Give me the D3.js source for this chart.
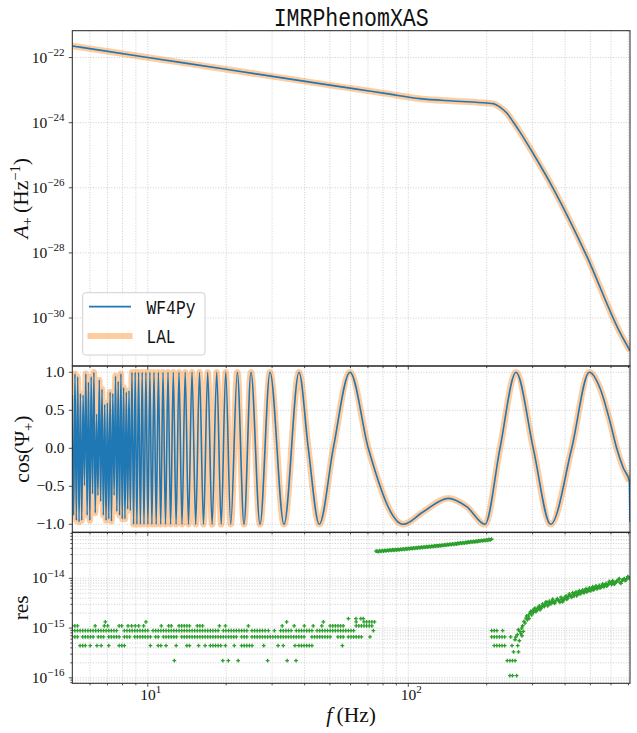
<!DOCTYPE html>
<html><head><meta charset="utf-8">
<script src="https://cdn.jsdelivr.net/npm/d3@7/dist/d3.min.js"></script>
<style>body{margin:0;background:#fff}svg{display:block}</style>
</head><body>
<script>
// ---------------- DATA ----------------
const titleText = "IMRPhenomXAS";
const seriesNames = ["WF4Py", "LAL"];

// Amplitude A+ (Hz^-1) vs frequency (Hz)
const ampFreq = [5.131, 10.0, 19.95, 45.8, 61.5, 82.6, 110.9, 148.9, 200.0, 211.8, 224.9, 238.8, 252.9, 268.5, 302.0, 360.6, 484.2, 650.1, 709.7];
const ampVal  = [2.275e-22, 1.01e-22, 4.36e-23, 1.585e-23, 1.11e-23, 7.80e-24, 5.47e-24, 4.62e-24, 4.01e-24, 3.85e-24, 3.02e-24, 1.97e-24, 1.05e-24, 5.14e-25, 1.11e-25, 9.33e-27, 7.98e-29, 3.53e-31, 9.86e-32];

// cos(Psi+) samples vs frequency (Hz)
const cosFreq = [5.131, 5.193, 5.255, 5.318, 5.382, 5.447, 5.512, 5.578, 5.645, 5.713, 5.782, 5.851, 5.921, 5.992, 6.064, 6.137, 6.211, 6.285, 6.361, 6.437, 6.515, 6.593, 6.672, 6.752, 6.833, 6.915, 6.998, 7.082, 7.167, 7.253, 7.340, 7.428, 7.518, 7.608, 7.699, 7.792, 7.885, 7.980, 8.076, 8.173, 8.271, 8.370, 8.471, 8.572,
  8.696, 8.820, 8.946, 9.081, 9.219, 9.366, 9.517, 9.669, 9.833, 10.009, 10.187, 10.369, 10.564, 10.771, 10.983, 11.209, 11.439, 11.695, 11.956, 12.234, 12.529, 12.843, 13.176, 13.530, 13.918, 14.330, 14.780, 15.272, 15.794, 16.362, 16.981, 17.655, 18.388, 19.135, 19.911, 20.812, 22.063, 23.408, 24.900, 26.967, 29.453, 33.336, 38.061,
  41.315, 45.53, 51.53, 59.72, 70.22, 95.68, 114.2, 142.4, 167.6, 197.0, 224.9, 259.1, 301.8, 352.1, 423.9, 495.3, 544.5, 594.8, 631.0, 668.9, 705.3];
const cosVal = [0.70, -0.88, 0.98, -0.95, 0.94, -0.97, 0.72, -0.95, 0.70, -0.49, 0.98, -0.88, 0.87, -0.95, 0.94, -0.60, 1.0, -0.85, 0.45, -0.62, 0.90, -0.70, 0.78, -0.88, 0.58, -0.95, 0.60, -0.93, 0.74, -0.96, 0.72, -0.62, 0.95, -0.83, 0.88, -0.88, 0.98, -0.93, 0.80, -0.93, 0.74, -0.80, 0.76, -0.82,
  1, -1, 1, -1, 1, -1, 1, -1, 1, -1, 1, -1, 1, -1, 1, -1, 1, -1, 1, -1, 1, -1, 1, -1, 1, -1, 1, -1, 1, -1, 1, -1, 1, -1, 1, -1, 1, -1, 1, -1, 1, -1, 1,
  0, -1, 0, 1, 0, -1, -0.834, -0.658, -0.768, -1, 0, 1, 0, -1, 0, 1, 0.79, 0.35, 0, -0.26, -0.43];
// WF4Py has one extra last sample at the cut-off
const cosTailFreq = [709.7];
const cosTailVal = [-0.97];

// Residuals: log10(f) positions of points at each quantised level
const resLevelVals = [1.11e-16, 2.22e-16, 3.33e-16, 4.44e-16, 6.66e-16, 8.88e-16, 1.11e-15, 1.33e-15, 1.55e-15];
const resLogF_L05 = [2.39, 2.40, 2.416];
const resLogF_L1 = [1.102, 1.288, 1.309, 1.347, 1.460, 1.535, 1.569, 2.38, 2.39, 2.40, 2.41];
const resLogF_L15 = [2.404, 2.423];
const resLogF_L2 = [0.74, 0.75, 0.76, 0.779, 0.805, 0.821, 0.850, 0.89, 0.90, 0.91, 1.010, 1.04, 1.05, 1.070, 1.109, 1.15, 1.16, 1.195, 1.22, 1.24, 1.25, 1.26, 1.27, 1.28, 1.298, 1.332, 1.36, 1.37, 1.38, 1.39, 1.40, 1.445, 1.50, 1.520, 1.565, 1.58, 1.59, 1.60, 1.61, 1.62, 1.63, 1.747,
  2.33, 2.34, 2.35, 2.36, 2.37, 2.398, 2.420];
const resLogF_L3 = [0.71, 0.72, 0.73, 0.75, 0.76, 0.77, 0.78, 0.79, 0.81, 0.82, 0.83, 0.85, 0.86, 0.87, 0.88, 0.89, 0.91, 0.92, 0.93, 0.95, 0.96, 0.97, 0.98, 0.99, 1.00, 1.01, 1.03, 1.04, 1.06, 1.07, 1.08, 1.09, 1.10, 1.11,
  1.13, 1.14, 1.15, 1.16, 1.17, 1.18, 1.19, 1.20, 1.21, 1.22, 1.23, 1.24, 1.25, 1.26, 1.27, 1.28, 1.29, 1.30, 1.31, 1.32, 1.33, 1.34, 1.36, 1.37, 1.38,
  1.40, 1.41, 1.42, 1.43, 1.44, 1.45, 1.46, 1.47, 1.48, 1.49, 1.50, 1.51, 1.52, 1.53, 1.54, 1.55, 1.56, 1.57, 1.58, 1.59, 1.60, 1.63, 1.64, 1.65, 1.66, 1.67, 1.68, 1.69, 1.70, 1.73, 1.74, 1.75, 1.77, 1.78, 1.79, 1.80, 1.81, 1.82, 1.853,
  2.32, 2.33, 2.34, 2.35, 2.36, 2.37, 2.393];
const resLogF_L4 = [0.71, 0.72, 0.73, 0.74, 0.75, 0.76, 0.77, 0.78, 0.79, 0.80, 0.81, 0.82, 0.83, 0.84, 0.85, 0.86, 0.87, 0.88, 0.91, 0.92, 0.93, 0.94, 0.95, 0.96, 0.97, 0.98, 0.99, 1.00,
  1.02, 1.03, 1.04, 1.05, 1.06, 1.07, 1.08, 1.09, 1.10, 1.11, 1.12, 1.13, 1.14, 1.15, 1.16, 1.17, 1.18, 1.19, 1.20, 1.21, 1.22, 1.23, 1.24, 1.25, 1.26, 1.27, 1.29, 1.30,
  1.31, 1.32, 1.33, 1.34, 1.35, 1.36, 1.37, 1.38, 1.40, 1.41, 1.42, 1.43, 1.44, 1.45, 1.463, 1.486, 1.51, 1.52, 1.53, 1.54, 1.55, 1.57, 1.58, 1.59, 1.60, 1.61, 1.62, 1.63,
  1.65, 1.66, 1.67, 1.68, 1.69, 1.70, 1.71, 1.72, 1.73, 1.74, 1.75, 1.76, 1.77, 1.78, 1.79, 1.866,
  2.32, 2.33, 2.34, 2.362];
const resLogF_L5 = [0.71, 0.72, 0.73, 0.798, 0.833, 0.846, 0.89, 0.90, 0.924, 0.938, 0.952, 0.965, 0.984, 1.052, 1.08, 1.09, 1.12, 1.13, 1.14, 1.15, 1.16, 1.19, 1.20, 1.21, 1.275, 1.298, 1.386, 1.516, 1.562, 1.601, 1.635, 1.668,
  1.70, 1.71, 1.72, 1.73, 1.74, 1.75, 1.80, 1.81, 1.82, 1.83, 1.84, 1.85, 1.86];
const resLogF_L6 = [0.837, 0.993, 1.533, 1.674, 1.80, 1.83, 1.84, 1.85, 1.86, 1.87];
const resLogF_L7 = [1.770, 1.799, 1.818, 1.827];

// Residuals: continuous band (log10 f, log10 res)
const resBandLogF = [1.876, 1.88, 1.885, 1.89, 1.895, 1.90, 1.905, 1.91, 1.915, 1.92, 1.925, 1.93, 1.935, 1.94, 1.945, 1.95, 1.955, 1.96, 1.965, 1.97, 1.975, 1.98, 1.985, 1.99, 1.995, 2.00, 2.005, 2.01, 2.015, 2.02, 2.025, 2.03, 2.035, 2.04, 2.045, 2.05, 2.055, 2.06, 2.065, 2.07, 2.075, 2.08, 2.085, 2.09, 2.095, 2.10, 2.105, 2.11, 2.115, 2.12, 2.125, 2.13, 2.135, 2.14, 2.145, 2.15, 2.155, 2.16, 2.165, 2.17, 2.175, 2.18, 2.185, 2.19, 2.195, 2.20, 2.205, 2.21, 2.215, 2.22, 2.225, 2.23, 2.235, 2.24, 2.245, 2.25, 2.255, 2.26, 2.265, 2.27, 2.275, 2.28, 2.285, 2.29, 2.295, 2.30, 2.305, 2.31, 2.315, 2.32];
const resBandLogR = [-13.454, -13.452, -13.462, -13.448, -13.458, -13.444, -13.453, -13.439, -13.449, -13.435, -13.444, -13.430, -13.440, -13.426, -13.436, -13.422, -13.431, -13.417, -13.427, -13.413, -13.422, -13.409, -13.418, -13.404, -13.413, -13.400, -13.409, -13.395, -13.403, -13.389, -13.398, -13.384, -13.393, -13.379, -13.388, -13.373, -13.382, -13.368, -13.377, -13.363, -13.371, -13.357, -13.366, -13.352, -13.361, -13.347, -13.355, -13.341, -13.350, -13.336, -13.345, -13.331, -13.339, -13.325, -13.334, -13.320, -13.328, -13.314, -13.322, -13.307, -13.316, -13.301, -13.310, -13.295, -13.304, -13.289, -13.297, -13.282, -13.291, -13.276, -13.285, -13.270, -13.279, -13.264, -13.273, -13.258, -13.266, -13.251, -13.260, -13.245, -13.254, -13.239, -13.248, -13.233, -13.241, -13.226, -13.235, -13.220, -13.229, -13.214];

// Residuals: rising scatter after the cut (log10 f, log10 res)
const resRiseLogF = [2.4096, 2.4186, 2.4262, 2.4288, 2.4314, 2.4352, 2.4390, 2.4416, 2.4480, 2.4518, 2.4569, 2.4608, 2.4672, 2.4736, 2.4774, 2.4825, 2.4902, 2.4953, 2.5004, 2.5056, 2.5120, 2.5184, 2.5248, 2.5312, 2.5376, 2.5440, 2.5504, 2.5568, 2.5670, 2.5760, 2.5823, 2.5887, 2.5951, 2.6015, 2.6079, 2.6143, 2.6207, 2.6271, 2.6335, 2.6399, 2.6463, 2.6527, 2.6591, 2.6655, 2.6719, 2.6783, 2.6847, 2.6911, 2.6975, 2.7039, 2.7103, 2.7167, 2.7231, 2.7295, 2.7359, 2.7423, 2.7487, 2.7551, 2.7615, 2.7679, 2.7743, 2.7807, 2.7871, 2.7935, 2.7999, 2.8063, 2.8127, 2.8191, 2.8255, 2.8319, 2.8383, 2.8447, 2.8511,
  2.4122, 2.4224, 2.4365, 2.4442, 2.4544, 2.4634, 2.4698, 2.4800, 2.4864, 2.4928, 2.5030, 2.5094, 2.5158, 2.5222, 2.5286, 2.5350, 2.5414, 2.5478, 2.5542, 2.5619, 2.5721, 2.5798, 2.5862, 2.5926, 2.5990, 2.6054, 2.6118, 2.6182, 2.6246, 2.6310, 2.6374, 2.6438, 2.6502, 2.6566, 2.6630, 2.6694, 2.6758, 2.6822, 2.6886, 2.6950, 2.7014, 2.7078, 2.7141, 2.7205, 2.7269, 2.7333, 2.7397, 2.7461, 2.7525, 2.7589, 2.7653, 2.7717, 2.7781, 2.7845, 2.7909, 2.7973, 2.8037, 2.8101, 2.8165, 2.8229, 2.8293, 2.8357, 2.8421, 2.8485];
const resRiseLogR = [-15.234, -15.134, -15.254, -15.067, -15.101, -15.001, -14.954, -15.067, -14.901, -14.801, -14.834, -14.754, -14.701, -14.734, -14.647, -14.621, -14.667, -14.601, -14.581, -14.634, -14.567, -14.554, -14.521, -14.487, -14.534, -14.501, -14.467, -14.481, -14.447, -14.434, -14.481, -14.421, -14.447, -14.381, -14.421, -14.367, -14.341, -14.381, -14.327, -14.301, -14.354, -14.287, -14.314, -14.267, -14.287, -14.247, -14.274, -14.221, -14.247, -14.201, -14.234, -14.181, -14.207, -14.167, -14.194, -14.141, -14.167, -14.127, -14.154, -14.114, -14.087, -14.127, -14.074, -14.101, -14.061, -14.021, -14.087, -14.061, -14.021, -14.047, -14.007, -13.981, -14.001,
  -15.181, -15.034, -15.154, -14.867, -14.754, -14.807, -14.667, -14.687, -14.601, -14.647, -14.554, -14.607, -14.514, -14.567, -14.474, -14.554, -14.461, -14.514, -14.421, -14.501, -14.407, -14.461, -14.381, -14.474, -14.407, -14.354, -14.407, -14.314, -14.367, -14.287, -14.354, -14.274, -14.327, -14.247, -14.301, -14.234, -14.287, -14.207, -14.261, -14.194, -14.247, -14.167, -14.221, -14.154, -14.207, -14.141, -14.181, -14.114, -14.167, -14.101, -14.141, -14.061, -14.101, -14.047, -14.114, -14.074, -14.047, -14.007, -14.101, -14.034, -14.007, -14.034, -13.967, -13.994];

// Tick values
const xMajorTicks = [10, 100];
const xMajorLabels = ["1", "2"];
const xMinorTicks = [6, 7, 8, 9, 20, 30, 40, 50, 60, 70, 80, 90, 200, 300, 400, 500, 600, 700];
const ampTickExps = [-22, -24, -26, -28, -30];
const cosTicks = [-1.0, -0.5, 0.0, 0.5, 1.0];
const cosTickLabels = ["\u22121.0", "\u22120.5", "0.0", "0.5", "1.0"];
const resTickExps = [-14, -15, -16];
const resMinorTicks = [8e-17, 9e-17, 2e-16, 3e-16, 4e-16, 5e-16, 6e-16, 7e-16, 8e-16, 9e-16, 2e-15, 3e-15, 4e-15, 5e-15, 6e-15, 7e-15, 8e-15, 9e-15, 2e-14, 3e-14, 4e-14, 5e-14, 6e-14, 7e-14, 8e-14];

// ---------------- LAYOUT ----------------
const W = 637, H = 733;
const L = 72.3, R = 630;
const top1 = 30.7, b1 = 366, b2 = 532.3, b3 = 683.3;
const C_BLUE = "#1f77b4", C_ORANGE = "#ff7f0e", C_GREEN = "#2ca02c";
const SERIF = '"Liberation Serif", "DejaVu Serif", serif';
const MONO = '"Liberation Mono", "DejaVu Sans Mono", monospace';

const x = d3.scaleLog().domain([5.131, 709.7]).range([L, R]);
const yA = d3.scaleLog().domain([Math.pow(10, -31.474), Math.pow(10, -21.175)]).range([b1, top1]);
const yC = d3.scaleLinear().domain([-1.105, 1.083]).range([b2, b1]);
const yR = d3.scaleLog().domain([Math.pow(10, -16.11), Math.pow(10, -13.075)]).range([b3, b2]);

const svg = d3.select("body").append("svg").attr("width", W).attr("height", H)
  .style("font-family", SERIF);
svg.append("rect").attr("width", W).attr("height", H).attr("fill", "#fff");

const defs = svg.append("defs");
[["c1", top1, b1], ["c2", b1, b2], ["c3", b2, b3]].forEach(([id, t, b]) => {
  defs.append("clipPath").attr("id", id).append("rect").attr("x", L).attr("y", t).attr("width", R - L).attr("height", b - t);
});

const gridStyle = s => s.attr("stroke", "#c2c2c2").attr("stroke-width", 0.8).attr("stroke-dasharray", "1,1.6").attr("fill", "none");
const allX = xMajorTicks.concat(xMinorTicks);

function vgrid(t, b) {
  svg.append("g").selectAll("line").data(allX).join("line")
    .attr("x1", d => x(d)).attr("x2", d => x(d)).attr("y1", t).attr("y2", b).call(gridStyle);
}
function hgrid(vals, scale) {
  svg.append("g").selectAll("line").data(vals).join("line")
    .attr("x1", L).attr("x2", R).attr("y1", d => scale(d)).attr("y2", d => scale(d)).call(gridStyle);
}

// grids
vgrid(top1, b1); vgrid(b1, b2); vgrid(b2, b3);
hgrid(ampTickExps.map(e => Math.pow(10, e)), yA);
hgrid(cosTicks, yC);
hgrid(resTickExps.map(e => Math.pow(10, e)).concat(resMinorTicks), yR);

// ---------- top panel: amplitude ----------
const ampData = ampFreq.map((f, i) => [f, ampVal[i]]);
const lineA = d3.line().x(d => x(d[0])).y(d => yA(d[1])).curve(d3.curveMonotoneX);
const gA = svg.append("g").attr("clip-path", "url(#c1)");
gA.append("path").attr("d", lineA(ampData)).attr("fill", "none").attr("stroke", C_ORANGE).attr("stroke-opacity", 0.4).attr("stroke-width", 6.5).attr("stroke-linejoin", "round");
gA.append("path").attr("d", lineA(ampData)).attr("fill", "none").attr("stroke", C_BLUE).attr("stroke-width", 1.6);

// ---------- middle panel: cos(Psi) ----------
const cosData = cosFreq.map((f, i) => [f, cosVal[i]]);
const cosDataBlue = cosData.concat(cosTailFreq.map((f, i) => [f, cosTailVal[i]]));
const lineC = d3.line().x(d => x(d[0])).y(d => yC(d[1])).curve(d3.curveMonotoneX);
const gC = svg.append("g").attr("clip-path", "url(#c2)");
gC.append("path").attr("d", lineC(cosData)).attr("fill", "none").attr("stroke", C_ORANGE).attr("stroke-opacity", 0.4).attr("stroke-width", 6.5).attr("stroke-linejoin", "round");
gC.append("path").attr("d", lineC(cosDataBlue)).attr("fill", "none").attr("stroke", C_BLUE).attr("stroke-width", 1.6).attr("stroke-linejoin", "round");

// ---------- bottom panel: residuals ----------
const resPts = [];
const levelArrays = [resLogF_L05, resLogF_L1, resLogF_L15, resLogF_L2, resLogF_L3, resLogF_L4, resLogF_L5, resLogF_L6, resLogF_L7];
levelArrays.forEach((arr, li) => arr.forEach(lf => resPts.push([Math.pow(10, lf), resLevelVals[li]])));
resBandLogF.forEach((lf, i) => resPts.push([Math.pow(10, lf), Math.pow(10, resBandLogR[i])]));
resRiseLogF.forEach((lf, i) => resPts.push([Math.pow(10, lf), Math.pow(10, resRiseLogR[i])]));
const ms = 1.9;
let pd = "";
resPts.forEach(([f, r]) => {
  const px = x(f), py = yR(r);
  pd += `M${(px - ms).toFixed(2)},${py.toFixed(2)}h${2 * ms}M${px.toFixed(2)},${(py - ms).toFixed(2)}v${2 * ms}`;
});
svg.append("g").attr("clip-path", "url(#c3)").append("path").attr("d", pd)
  .attr("stroke", C_GREEN).attr("stroke-width", 1.35).attr("fill", "none");

// ---------- ticks ----------
const tickCol = "#222";
function xTicks(b) {
  const g = svg.append("g").attr("stroke", tickCol).attr("stroke-width", 0.8);
  xMajorTicks.forEach(v => g.append("line").attr("x1", x(v)).attr("x2", x(v)).attr("y1", b).attr("y2", b + 3.5));
  xMinorTicks.forEach(v => g.append("line").attr("x1", x(v)).attr("x2", x(v)).attr("y1", b).attr("y2", b + 2));
}
xTicks(b1); xTicks(b2); xTicks(b3);
function yTick(py, len) {
  svg.append("line").attr("x1", L - len).attr("x2", L).attr("y1", py).attr("y2", py).attr("stroke", tickCol).attr("stroke-width", 0.8);
}
function sciLabel(xp, yp, base, exp, anchor) {
  const t = svg.append("text").attr("x", xp).attr("y", yp).attr("text-anchor", anchor).attr("font-size", 15.5).attr("fill", "#111");
  t.append("tspan").text(base);
  t.append("tspan").attr("font-size", 11).attr("dy", -6.5).text(exp);
  return t;
}
ampTickExps.forEach(e => { yTick(yA(Math.pow(10, e)), 3.5); sciLabel(64.5, yA(Math.pow(10, e)) + 5, "10", "\u2212" + (-e), "end"); });
cosTicks.forEach((v, i) => {
  yTick(yC(v), 3.5);
  svg.append("text").attr("x", 64.5).attr("y", yC(v) + 5).attr("text-anchor", "end").attr("font-size", 15.5).attr("fill", "#111").text(cosTickLabels[i]);
});
resTickExps.forEach(e => { yTick(yR(Math.pow(10, e)), 3.5); sciLabel(64.5, yR(Math.pow(10, e)) + 5, "10", "\u2212" + (-e), "end"); });
resMinorTicks.forEach(v => yTick(yR(v), 2));
xMajorTicks.forEach((v, i) => sciLabel(x(v) + 3, b3 + 16.5, "10", xMajorLabels[i], "middle"));

// ---------- spines ----------
[[top1, b1], [b1, b2], [b2, b3]].forEach(([t, b]) => {
  svg.append("rect").attr("x", L).attr("y", t).attr("width", R - L).attr("height", b - t)
    .attr("fill", "none").attr("stroke", "#222").attr("stroke-width", 1);
});

// ---------- legend ----------
const lg = svg.append("g");
lg.append("rect").attr("x", 82.7).attr("y", 292.7).attr("width", 122.3).attr("height", 62.3).attr("rx", 3)
  .attr("fill", "#fff").attr("fill-opacity", 0.8).attr("stroke", "#d0d0d0").attr("stroke-width", 1);
lg.append("line").attr("x1", 89).attr("x2", 131).attr("y1", 306.7).attr("y2", 306.7).attr("stroke", C_BLUE).attr("stroke-width", 1.8);
lg.append("line").attr("x1", 87.5).attr("x2", 132.5).attr("y1", 336).attr("y2", 336).attr("stroke", C_ORANGE).attr("stroke-opacity", 0.4).attr("stroke-width", 6);
lg.append("text").attr("x", 146.5).attr("y", 313.5).attr("font-family", MONO).attr("font-size", 19.5)
  .attr("textLength", 49).attr("lengthAdjust", "spacingAndGlyphs").attr("fill", "#111").text(seriesNames[0]);
lg.append("text").attr("x", 146.5).attr("y", 342.5).attr("font-family", MONO).attr("font-size", 19.5)
  .attr("textLength", 29).attr("lengthAdjust", "spacingAndGlyphs").attr("fill", "#111").text(seriesNames[1]);

// ---------- title & labels ----------
svg.append("text").attr("x", (L + R) / 2 - 77.5).attr("y", 25.5)
  .attr("font-family", MONO).attr("font-size", 25).attr("textLength", 155).attr("lengthAdjust", "spacingAndGlyphs")
  .attr("fill", "#111").text(titleText);

const yl1 = svg.append("text").attr("transform", `translate(28,${(top1 + b1) / 2}) rotate(-90)`).attr("text-anchor", "middle").attr("font-size", 21.5).attr("fill", "#111");
yl1.append("tspan").attr("font-style", "italic").text("A");
yl1.append("tspan").attr("font-size", 14.5).attr("dy", 4).text("+");
yl1.append("tspan").attr("dy", -4).text("\u2009(Hz");
yl1.append("tspan").attr("font-size", 14.5).attr("dy", -8).text("\u22121");
yl1.append("tspan").attr("dy", 8).text(")");

const yl2 = svg.append("text").attr("transform", `translate(29,${(b1 + b2) / 2}) rotate(-90)`).attr("text-anchor", "middle").attr("font-size", 21.5).attr("fill", "#111");
yl2.append("tspan").text("cos(\u03A8");
yl2.append("tspan").attr("font-size", 14.5).attr("dy", 4).text("+");
yl2.append("tspan").attr("dy", -4).text(")");

svg.append("text").attr("transform", `translate(28,${(b2 + b3) / 2}) rotate(-90)`).attr("text-anchor", "middle").attr("font-size", 21.5).attr("fill", "#111").text("res");

const xl = svg.append("text").attr("x", (L + R) / 2).attr("y", 722).attr("text-anchor", "middle").attr("font-size", 21.5).attr("fill", "#111");
xl.append("tspan").attr("font-style", "italic").text("f");
xl.append("tspan").text("\u2009(Hz)");
</script>
</body></html>
